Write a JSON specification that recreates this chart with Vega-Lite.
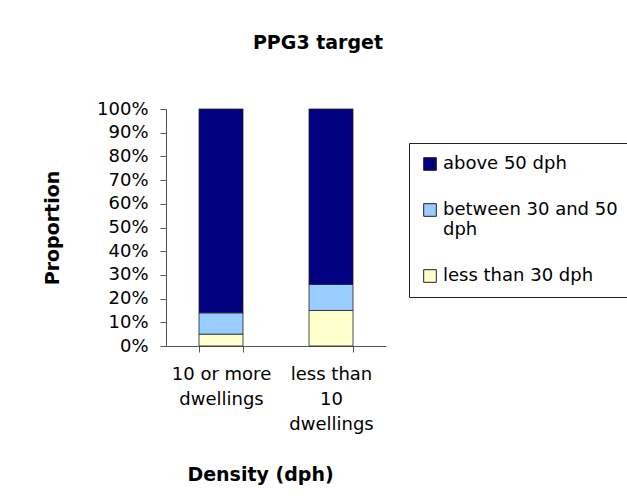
{
  "$schema": "https://vega.github.io/schema/vega-lite/v6.json",
  "width": 220,
  "height": 237,
  "autosize": "none",
  "padding": {"left": 166, "top": 109, "right": 241, "bottom": 150},
  "background": "white",
  "title": {
    "text": "PPG3 target",
    "font": "DejaVu Sans",
    "fontSize": 19,
    "fontWeight": "bold",
    "color": "black",
    "anchor": "middle",
    "frame": "group",
    "dx": 42,
    "baseline": "alphabetic",
    "offset": 32
  },
  "data": {
    "values": [
      {"group": "10 or more dwellings", "density": "less than 30 dph", "value": 5, "rank": 1},
      {"group": "10 or more dwellings", "density": "between 30 and 50 dph", "value": 9, "rank": 2},
      {"group": "10 or more dwellings", "density": "above 50 dph", "value": 86, "rank": 3},
      {"group": "less than 10 dwellings", "density": "less than 30 dph", "value": 15, "rank": 1},
      {"group": "less than 10 dwellings", "density": "between 30 and 50 dph", "value": 11, "rank": 2},
      {"group": "less than 10 dwellings", "density": "above 50 dph", "value": 74, "rank": 3}
    ]
  },
  "mark": {"type": "bar", "stroke": "#222222", "strokeWidth": 0.8},
  "encoding": {
    "x": {
      "field": "group",
      "type": "nominal",
      "sort": ["10 or more dwellings", "less than 10 dwellings"],
      "scale": {"paddingInner": 0.6, "paddingOuter": 0.3},
      "axis": {
        "title": "Density (dph)",
        "labelAngle": 0,
        "tickBand": "extent",
        "labelExpr": "datum.label == '10 or more dwellings' ? ['10 or more', 'dwellings'] : (datum.label == 'less than 10 dwellings' ? ['less than', '10', 'dwellings'] : '')",
        "labelLineHeight": 25,
        "labelPadding": 13,
        "labelBaseline": "top",
        "titleX": 94,
        "titleY": 134,
        "titleBaseline": "alphabetic",
        "titleAlign": "center",
        "titleAnchor": null
      }
    },
    "y": {
      "field": "value",
      "type": "quantitative",
      "stack": "normalize",
      "scale": {"domain": [0, 1]},
      "axis": {
        "title": "Proportion",
        "format": ".0%",
        "values": [0, 0.1, 0.2, 0.3, 0.4, 0.5, 0.6, 0.7, 0.8, 0.9, 1],
        "grid": false,
        "labelPadding": 12,
        "titleX": -114,
        "titleY": 118.5,
        "titleAngle": 270,
        "titleBaseline": "middle",
        "titleAlign": "center",
        "titleAnchor": null
      }
    },
    "color": {
      "field": "density",
      "type": "nominal",
      "scale": {
        "domain": ["above 50 dph", "between 30 and 50 dph", "less than 30 dph"],
        "range": ["#000080", "#99CCFF", "#FFFFCC"]
      },
      "legend": {
        "title": null,
        "orient": "none",
        "legendX": 243,
        "legendY": 34,
        "strokeColor": "#222222",
        "padding": 12,
        "symbolType": "square",
        "symbolSize": 160,
        "symbolStrokeColor": "#222222",
        "symbolStrokeWidth": 1,
        "labelOffset": 4,
        "labelFont": "DejaVu Sans",
        "labelFontSize": 18,
        "labelColor": "black",
        "labelLineHeight": 24,
        "labelLimit": 300,
        "rowPadding": 28,
        "labelExpr": "datum.label == 'between 30 and 50 dph' ? ['between 30 and 50', 'dph'] : datum.label"
      }
    },
    "order": {"field": "rank", "type": "quantitative"}
  },
  "config": {
    "view": {"stroke": null},
    "axis": {
      "labelFont": "DejaVu Sans",
      "labelFontSize": 18,
      "labelColor": "black",
      "titleFont": "DejaVu Sans",
      "titleFontSize": 19,
      "titleFontWeight": "bold",
      "titleColor": "black",
      "domainColor": "#555555",
      "tickColor": "#555555",
      "tickSize": 6,
      "grid": false
    }
  }
}
